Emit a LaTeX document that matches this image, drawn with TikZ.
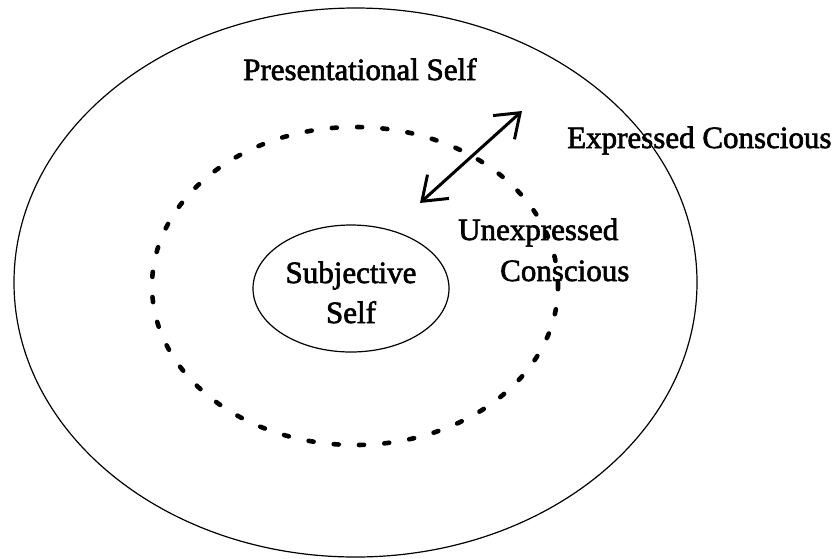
\documentclass[tikz,border=0pt]{standalone}
\usepackage{fontspec}
\setmainfont{Liberation Serif}
\newfontfamily\labelfont{Liberation Serif}[FakeBold=2]
\usetikzlibrary{arrows.meta,shapes.geometric}

\begin{document}
\begin{tikzpicture}[x=1pt,y=-1pt,
  ring/.style={draw=black,ellipse,inner sep=0pt,line width=1.2pt},
  hidden/.style={draw=black,ellipse,inner sep=0pt,line width=4.6pt,
    line cap=round,dash pattern=on 5pt off 20.3pt},
  label/.style={inner sep=0pt,font=\labelfont\fontsize{31}{40}\selectfont},
  twoway/.style={line width=3pt,
    {Straight Barb[length=22pt,width=32pt]}-{Straight Barb[length=22pt,width=32pt]}}]
  \useasboundingbox (0,0) rectangle (837,558);

  % the three nested layers of the self
  \node[ring,minimum width=683pt,minimum height=549pt] (outer) at (355.5,282.5) {};
  \node[hidden,minimum width=406pt,minimum height=318pt] (middle) at (355,286) {};
  \node[ring,minimum width=196pt,minimum height=127pt] (core) at (351,288.5) {};

  % labels
  \node[label,anchor=base west] (pres) at (243,80) {Presentational Self};
  \node[label,anchor=base west] (expr) at (567,148) {Expressed Conscious};
  \node[label,anchor=base west] (unexpr) at (458,240) {Unexpressed};
  \node[label,anchor=base west] (consc) at (500,281) {Conscious};
  \node[label,align=center] (subj) at (351,292.4) {Subjective\\Self};

  % exchange between the inner and the outer layer
  \coordinate (inward) at (420,203);
  \coordinate (outward) at (522,111);
  \draw[twoway] (inward) -- (outward);
\end{tikzpicture}
\end{document}
